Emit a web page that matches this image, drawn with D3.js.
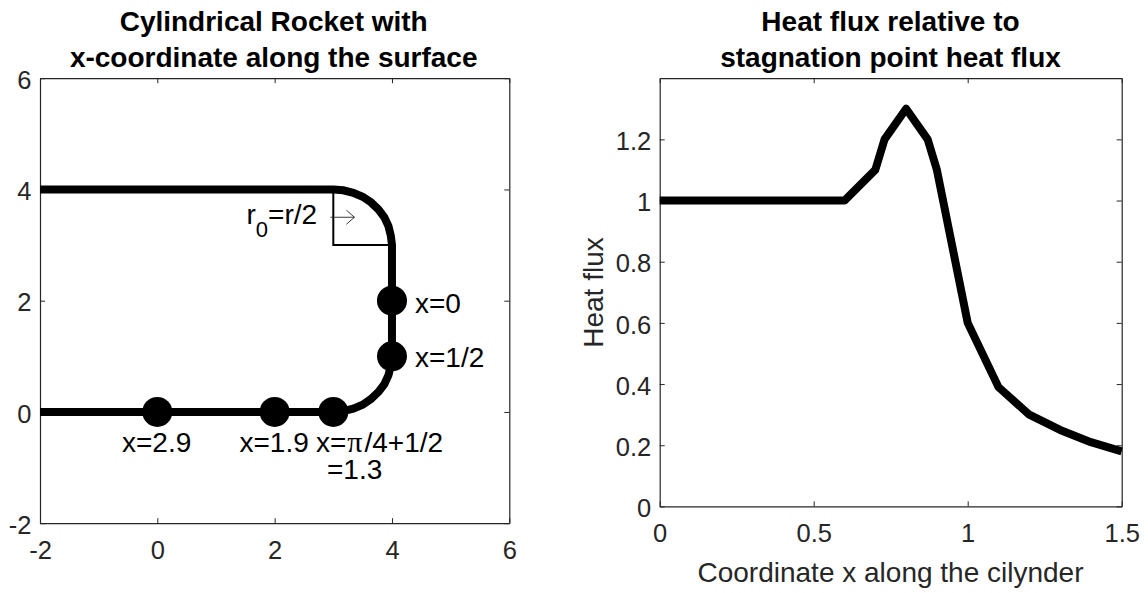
<!DOCTYPE html>
<html><head><meta charset="utf-8">
<script src="https://cdn.jsdelivr.net/npm/d3@7"></script>
<style>
html,body{margin:0;padding:0;background:#fff}
svg{display:block}
text{font-family:"Liberation Sans",Arial,sans-serif;fill:#262626}
.title{font-weight:bold;fill:#000;font-size:28px;text-anchor:middle}
.ticktext{font-size:25.5px}
.lab{font-size:28px;fill:#000}
</style></head><body>
<svg id="c" width="1148" height="593"></svg>
<script>
// Left panel: rocket outline
const rocketX=[-2,3,3.17,3.34,3.5,3.64,3.77,3.87,3.94,3.98,4,4,3.98,3.94,3.87,3.77,3.64,3.5,3.34,3.17,3,-2];
const rocketY=[4,4,3.985,3.94,3.87,3.77,3.64,3.5,3.34,3.17,3,1,0.83,0.66,0.5,0.36,0.23,0.13,0.06,0.015,0,0];
const radiusX=[3,3,4];
const radiusY=[4,3,3];
const markerX=[0,2,3,4,4];
const markerY=[0,0,0,1,2];
const leftXTicks=[-2,0,2,4,6];
const leftYTicks=[-2,0,2,4,6];
const leftTitle=["Cylindrical Rocket with","x-coordinate along the surface"];
// Right panel: heat flux
const fluxX=[0,0.6,0.7,0.73,0.8,0.87,0.9,1,1.1,1.2,1.3,1.4,1.5];
const fluxY=[1,1,1.1,1.2,1.3,1.2,1.1,0.6,0.39,0.3,0.25,0.21,0.18];
const rightXTicks=[0,0.5,1,1.5];
const rightYTicks=[0,0.2,0.4,0.6,0.8,1,1.2];
const rightTitle=["Heat flux relative to","stagnation point heat flux"];

const svg=d3.select("#c");
const AX="#262626";
function panel(xs,ys,xt,yt,fmt){
  const g=svg.append("g");
  const tl=5;
  const [x0,x1]=xs.range(),[y0,y1]=ys.range();
  const draw=(axis,tx,ty)=>{
    const a=g.append("g").attr("transform",`translate(${tx},${ty})`).call(axis);
    a.select(".domain").attr("stroke",AX).attr("stroke-width",1.2);
    a.selectAll(".tick line").attr("stroke",AX).attr("stroke-width",1);
    a.selectAll("text").attr("class","ticktext");
    return a;
  };
  draw(d3.axisBottom(xs).tickValues(xt).tickSize(-tl).tickSizeOuter(0).tickPadding(18).tickFormat(fmt),0,y0);
  draw(d3.axisTop(xs).tickValues(xt).tickSize(-tl).tickSizeOuter(0).tickFormat(""),0,y1);
  draw(d3.axisLeft(ys).tickValues(yt).tickSize(-tl).tickSizeOuter(0).tickPadding(8.5).tickFormat(fmt),x0,0)
    .selectAll("text").attr("dy","0.4em");
  draw(d3.axisRight(ys).tickValues(yt).tickSize(-tl).tickSizeOuter(0).tickFormat(""),x1,0);
  return g;
}
function titles(lines,cx,y){
  lines.forEach((t,i)=>svg.append("text").attr("class","title").attr("x",cx).attr("y",y+i*36).text(t));
}
// LEFT
const xL=d3.scaleLinear().domain([-2,6]).range([40,509.3]);
const yL=d3.scaleLinear().domain([-2,6]).range([523.2,78.2]);
const fmt=d=>String(d);
panel(xL,yL,leftXTicks,leftYTicks,fmt);
const lineL=d3.line().x(d=>xL(d[0])).y(d=>yL(d[1]));
svg.append("path").datum(d3.zip(radiusX,radiusY)).attr("d",lineL).attr("fill","none").attr("stroke","#000").attr("stroke-width",2);
svg.append("path").datum(d3.zip(rocketX,rocketY)).attr("d",lineL).attr("fill","none").attr("stroke","#000").attr("stroke-width",8);
svg.selectAll("circle.m").data(d3.zip(markerX,markerY)).join("circle").attr("class","m")
  .attr("cx",d=>xL(d[0])).attr("cy",d=>yL(d[1])).attr("r",15).attr("fill","#000");
titles(leftTitle,273.7,30.5);
// arrow
const ax0=xL(2.95),ax1=xL(3.36),ay=yL(3.5);
svg.append("path").attr("d",`M${ax0},${ay}H${ax1}M${ax1-8},${ay-7}L${ax1},${ay}L${ax1-8},${ay+7}`).attr("fill","none").attr("stroke","#262626").attr("stroke-width",0.9);
const lab=(t,x,y)=>svg.append("text").attr("class","lab").attr("x",x).attr("y",y).text(t);
lab("x=0",415,312.7);
lab("x=1/2",415,367.3);
lab("x=2.9",122,451.7);
lab("x=1.9",239.5,451.7);
const pi=lab("x=",316,451.7);
pi.append("tspan").attr("font-family","'Liberation Serif',serif").attr("dx",1).style("font-size","30px").text("π");
pi.append("tspan").attr("dx",2).text("/4+1/2");
lab("=1.3",327,479.3);
const r0=lab("r",246.5,224);
r0.append("tspan").attr("dy",12.7).style("font-size","22px").text("0");
r0.append("tspan").attr("dy",-12.7).text("=r/2");
// RIGHT
const xR=d3.scaleLinear().domain([0,1.5]).range([659.7,1121.7]);
const yR=d3.scaleLinear().domain([0,1.4]).range([506.4,78.2]);
panel(xR,yR,rightXTicks,rightYTicks,fmt);
svg.append("clipPath").attr("id","cr").append("rect").attr("x",659).attr("y",70).attr("width",463.5).attr("height",440);
svg.append("path").datum(d3.zip(fluxX,fluxY)).attr("d",d3.line().x(d=>xR(d[0])).y(d=>yR(d[1])))
  .attr("fill","none").attr("stroke","#000").attr("stroke-width",8).attr("stroke-linejoin","round")
  .attr("clip-path","url(#cr)");
titles(rightTitle,890.5,30.5);
svg.append("text").attr("class","lab").style("fill","#262626").attr("text-anchor","middle").attr("x",890.5).attr("y",581.7).text("Coordinate x along the cilynder");
svg.append("text").attr("class","lab").style("fill","#262626").attr("text-anchor","middle").attr("transform","translate(603.3,292.5) rotate(-90)").text("Heat flux");
</script></body></html>
